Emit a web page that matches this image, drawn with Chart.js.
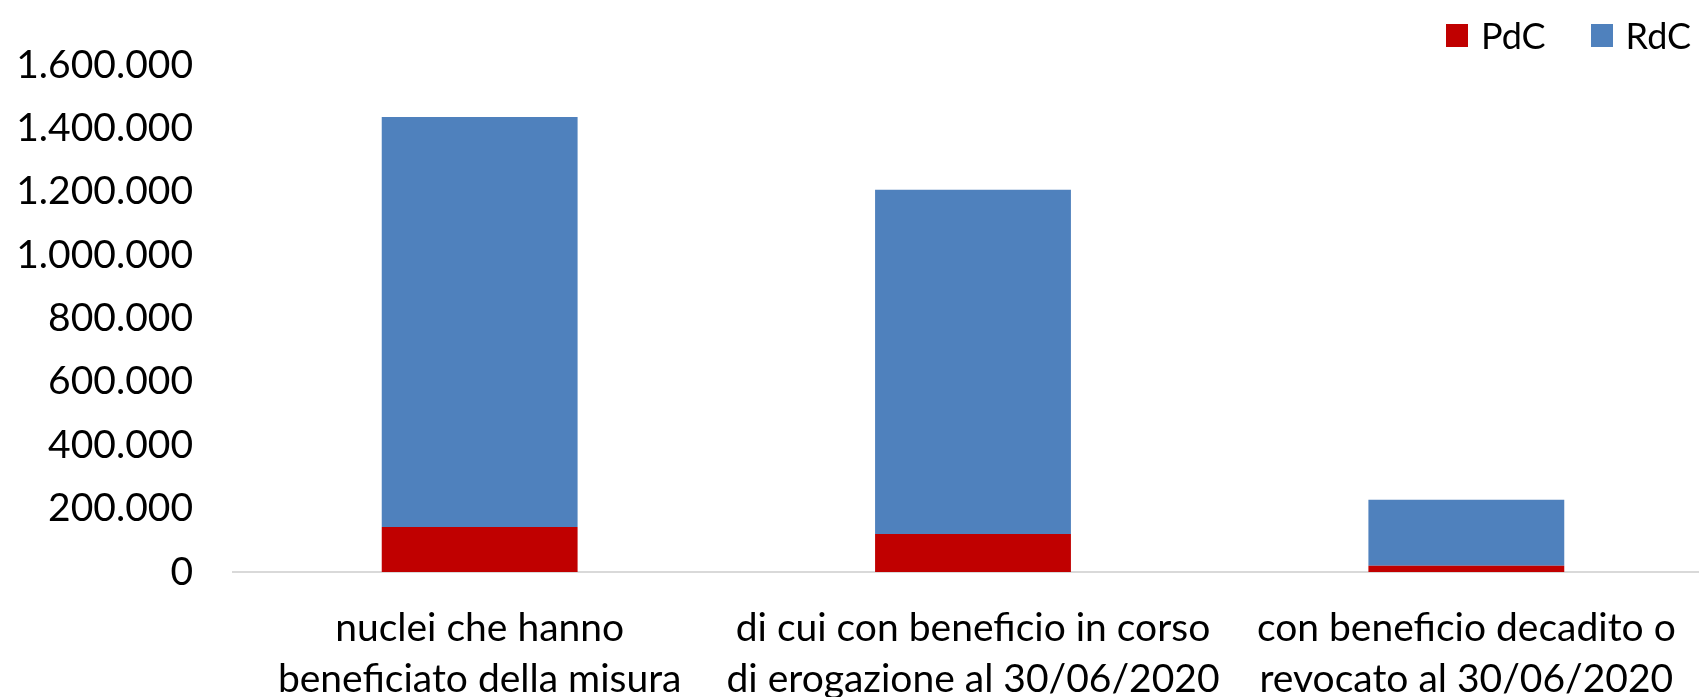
<!DOCTYPE html>
<html>
<head>
<meta charset="utf-8">
<script src="https://cdn.jsdelivr.net/npm/chart.js@4"></script>
<style>
  body { margin: 0; background: #fff; }
  #wrap { position: relative; width: 1699px; height: 697px; overflow: hidden; }
  #inner { width: 1713px; height: 697px; }
  #legend { position: absolute; top: 13px; left: 1446px; display: flex; align-items: center;
            font-family: Lato, "Liberation Sans", sans-serif; font-size: 36px; color: #000; }
  #legend .item { display: flex; align-items: center; }
  #legend .box { width: 22px; height: 23px; margin-right: 13px; }
  #legend .item + .item { margin-left: 45px; }
</style>
</head>
<body>
<div id="wrap"><div id="inner"><canvas id="chart"></canvas></div><div id="legend"></div></div>
<script>
// Categories (two lines each)
const CATEGORIES = [
    ["nuclei che hanno", "beneficiato della misura"],
    ["di cui con beneficio in corso", "di erogazione al 30/06/2020"],
    ["con beneficio decadito o", "revocato al 30/06/2020"]
];

// Series values
const PDC = [142000, 120000, 20000];
const RDC = [1294000, 1086000, 208000];
const SERIES = ['PdC', 'RdC'];
const COLORS = ['#C00000', '#4F81BD'];

// Y axis
const Y_MAX = 1600000;
const Y_STEP = 200000;

const fmt = v => String(v).replace(/\B(?=(\d{3})+(?!\d))/g, '.');

const FONT = 'Lato, "Liberation Sans", sans-serif';

const chart = new Chart(document.getElementById('chart'), {
    type: 'bar',
    data: {
        labels: CATEGORIES,
        datasets: [
            { label: SERIES[0], data: PDC, backgroundColor: COLORS[0] },
            { label: SERIES[1], data: RDC, backgroundColor: COLORS[1] }
        ]
    },
    options: {
        responsive: true,
        maintainAspectRatio: false,
        animation: false,
        layout: { padding: { top: 65, right: 0, bottom: 0, left: 0 } },
        datasets: { bar: { barPercentage: 0.397, categoryPercentage: 1 } },
        plugins: {
            legend: { display: false },
            tooltip: { enabled: false }
        },
        scales: {
            x: {
                stacked: true,
                grid: { display: false },
                border: { display: true, color: '#d9d9d9', width: 2 },
                afterFit: s => { s.height = 125; },
                ticks: {
                    color: '#000',
                    font: { family: FONT, size: 39, lineHeight: 1.3 },
                    maxRotation: 0,
                    autoSkip: false,
                    padding: 23
                }
            },
            y: {
                stacked: true,
                min: 0,
                max: Y_MAX,
                grid: { display: false, drawTicks: false },
                border: { display: false },
                afterFit: s => { s.width = 233; },
                ticks: {
                    stepSize: Y_STEP,
                    color: '#000',
                    font: { family: FONT, size: 39 },
                    padding: 40,
                    callback: v => fmt(v)
                }
            }
        }
    }
});

// legend as html
const legend = document.getElementById('legend');
SERIES.forEach((name, i) => {
    const item = document.createElement('div');
    item.className = 'item';
    item.innerHTML = `<span class="box" style="background:${COLORS[i]}"></span><span>${name}</span>`;
    legend.appendChild(item);
});
</script>
</body>
</html>
